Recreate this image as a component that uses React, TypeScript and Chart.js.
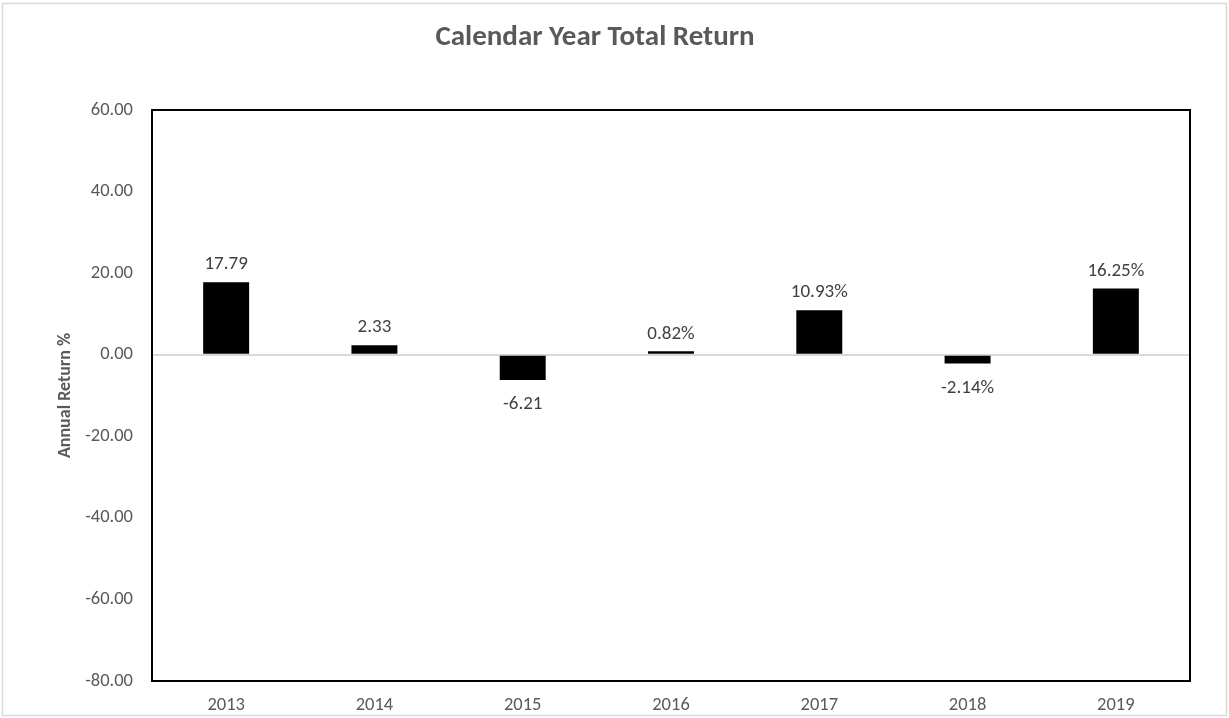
import React, { useEffect, useRef } from "react";
import { Chart, registerables } from "chart.js";

Chart.register(...registerables);

const categories = ["2013", "2014", "2015", "2016", "2017", "2018", "2019"];
const returns = [17.79, 2.33, -6.21, 0.82, 10.93, -2.14, 16.25];
const valueLabels = ["17.79", "2.33", "-6.21", "0.82%", "10.93%", "-2.14%", "16.25%"];
const yMin = -80;
const yMax = 60;
const yStep = 20;

const FONT = "Carlito, Lato, 'Liberation Sans', sans-serif";

const decorPlugin = {
  id: "decor",
  beforeDraw(chart: any) {
    const ctx = chart.ctx;
    ctx.save();
    ctx.fillStyle = "#ffffff";
    ctx.fillRect(0, 0, chart.width, chart.height);
    ctx.strokeStyle = "#d9d9d9";
    ctx.lineWidth = 1.5;
    ctx.strokeRect(2.5, 3.5, chart.width - 5, chart.height - 6);
    ctx.restore();
  },
  afterDraw(chart: any) {
    const { ctx, chartArea } = chart;
    ctx.save();
    ctx.strokeStyle = "#000000";
    ctx.lineWidth = 2;
    ctx.strokeRect(chartArea.left, chartArea.top, chartArea.right - chartArea.left, chartArea.bottom - chartArea.top);
    // value labels
    const meta = chart.getDatasetMeta(0);
    ctx.fillStyle = "#404040";
    ctx.font = `19px ${FONT}`;
    ctx.textAlign = "center";
    ctx.textBaseline = "middle";
    meta.data.forEach((bar: any, i: number) => {
      const v = returns[i];
      if (v >= 0) {
        ctx.fillText(valueLabels[i], bar.x, bar.y - 17.5);
      } else {
        ctx.fillText(valueLabels[i], bar.x, bar.y + 24.5);
      }
    });
    ctx.restore();
  },
};

export default function App() {
  const ref = useRef<HTMLCanvasElement | null>(null);

  useEffect(() => {
    if (!ref.current) return;
    const chart = new Chart(ref.current, {
      type: "bar",
      data: {
        labels: categories,
        datasets: [
          {
            data: returns,
            backgroundColor: "#000000",
            borderWidth: 0,
            barPercentage: 0.31,
            categoryPercentage: 1,
          },
        ],
      },
      options: {
        animation: false,
        responsive: false,
        devicePixelRatio: 1,
        layout: { padding: { left: 0, right: 39, top: 0, bottom: 0 } },
        plugins: {
          legend: { display: false },
          tooltip: { enabled: false },
          title: {
            display: true,
            text: "Calendar Year Total Return",
            color: "#595959",
            font: { family: FONT, size: 29, weight: "bold", lineHeight: 1.2 },
            padding: { top: 20, bottom: 55.2 },
          },
        },
        scales: {
          x: {
            grid: { display: false, drawTicks: false },
            border: { display: false },
            ticks: {
              color: "#595959",
              font: { family: FONT, size: 18.5 },
              padding: 13,
            },
            afterFit(scale: any) {
              scale.height = 37;
            },
          },
          y: {
            min: yMin,
            max: yMax,
            border: { display: false },
            grid: {
              drawTicks: false,
              color: (c: any) => (c.tick && c.tick.value === 0 ? "#d9d9d9" : "rgba(0,0,0,0)"),
              lineWidth: 2,
            },
            ticks: {
              stepSize: yStep,
              color: "#595959",
              font: { family: FONT, size: 18.5 },
              padding: 19,
              callback: (v: any) => Number(v).toFixed(2),
            },
            title: {
              display: true,
              text: "Annual Return %",
              color: "#595959",
              font: { family: FONT, size: 18, weight: "bold", lineHeight: 1.2 },
              padding: { top: 55, bottom: 0 },
            },
            afterFit(scale: any) {
              scale.width = 152;
            },
          },
        },
      },
      plugins: [decorPlugin],
    });
    return () => chart.destroy();
  }, []);

  return (
    <div style={{ position: "absolute", left: 0, top: 0, width: 1229, height: 718 }}>
      <canvas ref={ref} width={1229} height={718} style={{ display: "block", width: 1229, height: 718 }} />
    </div>
  );
}
